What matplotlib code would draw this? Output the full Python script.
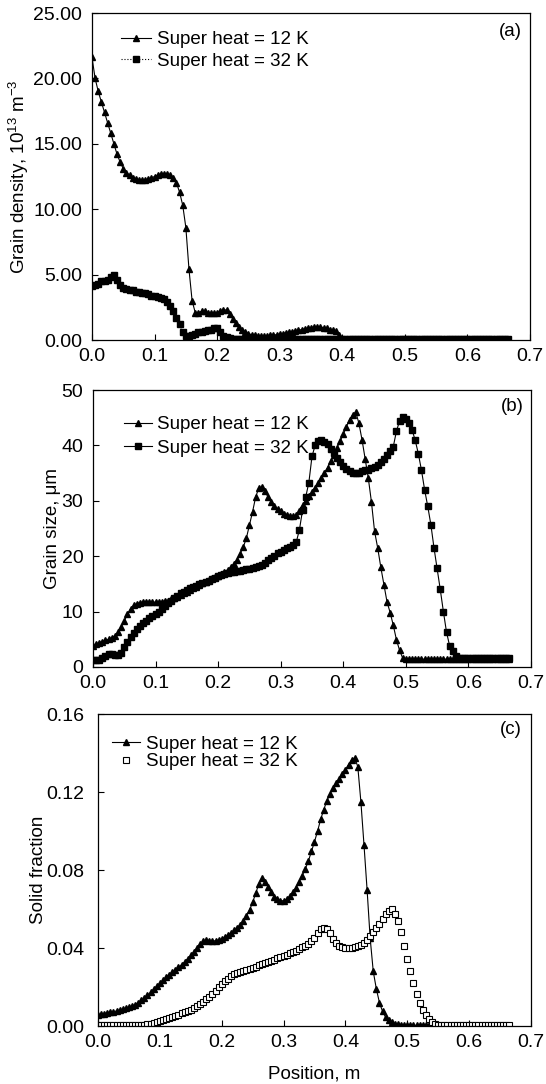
import numpy as np
import matplotlib
matplotlib.use('Agg')
import matplotlib.pyplot as plt
from matplotlib.ticker import FormatStrFormatter

plt.rcParams['font.family'] = ['Liberation Sans', 'DejaVu Sans']
plt.rcParams['mathtext.default'] = 'regular'

# Positions along the caster (m), sampled every 5 mm
position = np.arange(134) * 0.005

labels = ['Super heat = 12 K', 'Super heat = 32 K']

# (a) grain density, 1e13 m^-3
density_12 = [
    21.6, 20.0, 19.0, 18.2, 17.4, 16.6, 15.8, 15.0, 14.2, 13.6,
    13.1, 12.8, 12.6, 12.4, 12.3, 12.2, 12.2, 12.2, 12.3, 12.4,
    12.5, 12.6, 12.7, 12.7, 12.7, 12.6, 12.4, 12.0, 11.3, 10.3,
    8.6, 5.4, 3.0, 2.1, 2.1, 2.2, 2.2, 2.1, 2.1, 2.1,
    2.1, 2.2, 2.3, 2.3, 2.0, 1.6, 1.3, 1.0, 0.8, 0.6,
    0.5, 0.4, 0.35, 0.3, 0.3, 0.3, 0.3, 0.35, 0.4, 0.4,
    0.45, 0.5, 0.55, 0.6, 0.65, 0.7, 0.75, 0.8, 0.85, 0.9,
    0.95, 1.0, 1.0, 1.0, 0.95, 0.9, 0.8, 0.75, 0.7, 0.4,
    0.05, 0.0, 0.0, 0.0, 0.0, 0.0, 0.0, 0.0, 0.0, 0.0,
    0.0, 0.0, 0.0, 0.0, 0.0, 0.0, 0.0, 0.0, 0.0, 0.0,
    0.0, 0.0, 0.0, 0.0, 0.0, 0.0, 0.0, 0.0, 0.0, 0.0,
    0.0, 0.0, 0.0, 0.0, 0.0, 0.0, 0.0, 0.0, 0.0, 0.0,
    0.0, 0.0, 0.0, 0.0, 0.0, 0.0, 0.0, 0.0, 0.0, 0.0,
    0.0, 0.0, 0.0, 0.0,
]
density_32 = [
    4.1, 4.2, 4.3, 4.5, 4.5, 4.6, 4.8, 5.0, 4.6, 4.2,
    4.0, 3.9, 3.8, 3.8, 3.7, 3.7, 3.6, 3.6, 3.5, 3.4,
    3.4, 3.3, 3.2, 3.1, 2.9, 2.6, 2.2, 1.7, 1.2, 0.6,
    0.3, 0.3, 0.4, 0.5, 0.6, 0.6, 0.7, 0.8, 0.8, 0.9,
    0.9, 0.6, 0.3, 0.2, 0.15, 0.1, 0.1, 0.1, 0.1, 0.1,
    0.1, 0.1, 0.1, 0.1, 0.1, 0.1, 0.1, 0.1, 0.1, 0.1,
    0.05, 0.05, 0.05, 0.05, 0.05, 0.05, 0.05, 0.05, 0.05, 0.05,
    0.05, 0.05, 0.05, 0.05, 0.05, 0.05, 0.05, 0.05, 0.05, 0.05,
    0.05, 0.05, 0.05, 0.05, 0.05, 0.05, 0.05, 0.05, 0.05, 0.05,
    0.05, 0.05, 0.05, 0.05, 0.05, 0.05, 0.05, 0.05, 0.05, 0.05,
    0.05, 0.05, 0.05, 0.05, 0.05, 0.05, 0.05, 0.05, 0.05, 0.05,
    0.05, 0.05, 0.05, 0.05, 0.05, 0.05, 0.05, 0.05, 0.05, 0.05,
    0.05, 0.05, 0.05, 0.05, 0.05, 0.05, 0.05, 0.05, 0.05, 0.05,
    0.05, 0.05, 0.05, 0.05,
]

# (b) grain size, um
size_12 = [
    3.7, 4.1, 4.4, 4.6, 4.8, 5.0, 5.3, 5.6, 6.3, 7.2,
    8.3, 9.5, 10.5, 11.1, 11.4, 11.6, 11.7, 11.7, 11.7, 11.7,
    11.7, 11.8, 11.8, 11.9, 12.0, 12.2, 12.4, 12.7, 13.0, 13.3,
    13.6, 13.9, 14.2, 14.5, 14.8, 15.1, 15.4, 15.7, 16.0, 16.2,
    16.5, 16.8, 17.1, 17.5, 18.0, 18.6, 19.3, 20.4, 21.6, 23.2,
    25.6, 28.0, 30.7, 32.3, 32.5, 31.7, 30.6, 29.7, 29.0, 28.5,
    28.1, 27.7, 27.4, 27.2, 27.2, 27.5, 28.2, 29.2, 30.0, 30.8,
    31.6, 32.4, 33.2, 34.2, 35.1, 36.0, 37.2, 38.3, 39.6, 40.8,
    42.0, 43.4, 44.6, 45.5, 46.0, 44.0, 41.0, 37.5, 34.1, 29.8,
    24.5, 21.5, 18.0, 14.8, 11.7, 9.8, 7.5, 4.9, 3.0, 1.6,
    1.4, 1.4, 1.4, 1.4, 1.4, 1.4, 1.4, 1.4, 1.4, 1.4,
    1.4, 1.4, 1.4, 1.4, 1.4, 1.4, 1.4, 1.4, 1.4, 1.4,
    1.4, 1.4, 1.4, 1.4, 1.4, 1.4, 1.4, 1.4, 1.4, 1.4,
    1.4, 1.4, 1.4, 1.4,
]
size_32 = [
    1.3, 1.2, 1.3, 1.6, 2.0, 2.3, 2.3, 2.2, 2.1, 2.6,
    3.6, 4.6, 5.5, 6.2, 6.8, 7.4, 7.9, 8.3, 8.8, 9.2,
    9.6, 10.0, 10.5, 11.0, 11.5, 12.0, 12.4, 12.9, 13.3, 13.6,
    13.9, 14.2, 14.5, 14.7, 15.0, 15.2, 15.4, 15.6, 15.9, 16.1,
    16.4, 16.6, 16.8, 17.0, 17.1, 17.2, 17.3, 17.4, 17.5, 17.6,
    17.7, 17.9, 18.0, 18.2, 18.5, 18.8, 19.3, 19.7, 20.1, 20.5,
    20.8, 21.1, 21.4, 21.7, 22.0, 22.6, 24.8, 28.4, 30.7, 33.3,
    38.0, 40.0, 40.8, 41.0, 40.6, 40.2, 39.4, 38.6, 37.8, 37.0,
    36.3, 35.8, 35.4, 35.1, 35.0, 35.1, 35.3, 35.6, 35.6, 35.9,
    36.1, 36.5, 37.0, 37.6, 38.3, 39.0, 39.8, 42.6, 44.4, 45.1,
    44.8, 44.0, 42.8, 40.9, 38.5, 35.5, 32.0, 29.0, 25.7, 21.5,
    17.8, 14.0, 10.0, 6.3, 3.8, 2.9, 1.9, 1.6, 1.6, 1.6,
    1.6, 1.6, 1.6, 1.6, 1.6, 1.6, 1.6, 1.6, 1.6, 1.6,
    1.6, 1.6, 1.6, 1.6,
]

# (c) solid fraction
solid_12 = [
    0.0055, 0.0060, 0.0064, 0.0067, 0.0070, 0.0073, 0.0077, 0.0081, 0.0085, 0.0090,
    0.0096, 0.0102, 0.0110, 0.0120, 0.0131, 0.0143, 0.0157, 0.0172, 0.0188, 0.0203,
    0.0218, 0.0234, 0.0250, 0.0264, 0.0276, 0.0289, 0.0301, 0.0314, 0.0328, 0.0345,
    0.0362, 0.0381, 0.0400, 0.0420, 0.0435, 0.0440, 0.0438, 0.0436, 0.0437, 0.0440,
    0.0446, 0.0455, 0.0465, 0.0477, 0.0490, 0.0503, 0.0518, 0.0540, 0.0565, 0.0595,
    0.0635, 0.0680, 0.0730, 0.0758, 0.0740, 0.0712, 0.0685, 0.0664, 0.0650, 0.0643,
    0.0642, 0.0650, 0.0665, 0.0685, 0.0710, 0.0740, 0.0770, 0.0805, 0.0845, 0.0895,
    0.0945, 0.1000, 0.1060, 0.1110, 0.1155, 0.1190, 0.1220, 0.1245, 0.1265, 0.1290,
    0.1315, 0.1340, 0.1365, 0.1375, 0.1330, 0.1150, 0.0930, 0.0700, 0.0450, 0.0280,
    0.0190, 0.0120, 0.0075, 0.0045, 0.0030, 0.0020, 0.0012, 0.0008, 0.0005, 0.0003,
    0.0003, 0.0003, 0.0003, 0.0003, 0.0003, 0.0003, 0.0003, 0.0003, 0.0003, 0.0003,
    0.0003, 0.0003, 0.0003, 0.0003, 0.0003, 0.0003, 0.0003, 0.0003, 0.0003, 0.0003,
    0.0003, 0.0003, 0.0003, 0.0003, 0.0003, 0.0003, 0.0003, 0.0003, 0.0003, 0.0003,
    0.0003, 0.0003, 0.0003, 0.0003,
]
solid_32 = [
    0.0003, 0.0003, 0.0003, 0.0003, 0.0003, 0.0003, 0.0003, 0.0003, 0.0003, 0.0003,
    0.0003, 0.0003, 0.0003, 0.0003, 0.0003, 0.0006, 0.0009, 0.0012, 0.0016, 0.0020,
    0.0024, 0.0029, 0.0034, 0.0039, 0.0045, 0.0051, 0.0058, 0.0065, 0.0071, 0.0077,
    0.0084, 0.0092, 0.0101, 0.0112, 0.0124, 0.0137, 0.0151, 0.0166, 0.0182, 0.0198,
    0.0214, 0.0229, 0.0243, 0.0256, 0.0266, 0.0273, 0.0279, 0.0284, 0.0289, 0.0294,
    0.0299, 0.0305, 0.0311, 0.0317, 0.0323, 0.0329, 0.0335, 0.0341, 0.0347, 0.0353,
    0.0359, 0.0366, 0.0373, 0.0380, 0.0387, 0.0395, 0.0403, 0.0412, 0.0422, 0.0435,
    0.0452, 0.0478, 0.0500, 0.0505, 0.0500, 0.0478, 0.0448, 0.0425, 0.0410, 0.0403,
    0.0400, 0.0399, 0.0400, 0.0403, 0.0408, 0.0416, 0.0428, 0.0443, 0.0460, 0.0480,
    0.0502, 0.0525, 0.0550, 0.0572, 0.0590, 0.0598, 0.0575, 0.0540, 0.0480, 0.0410,
    0.0345, 0.0280, 0.0220, 0.0165, 0.0120, 0.0083, 0.0055, 0.0035, 0.0021, 0.0012,
    0.0007, 0.0004, 0.0003, 0.0003, 0.0003, 0.0003, 0.0003, 0.0003, 0.0003, 0.0003,
    0.0003, 0.0003, 0.0003, 0.0003, 0.0003, 0.0003, 0.0003, 0.0003, 0.0003, 0.0003,
    0.0003, 0.0003, 0.0003, 0.0003,
]

x_ticks = [0.0, 0.1, 0.2, 0.3, 0.4, 0.5, 0.6, 0.7]
FS = 13.5
TICK_FS = 14

fig = plt.figure(figsize=(5.46, 10.84), dpi=100)
ax_a = fig.add_axes([0.1685, 0.6863, 0.8022, 0.3017])
ax_b = fig.add_axes([0.1703, 0.3847, 0.8022, 0.2555])
ax_c = fig.add_axes([0.1795, 0.0535, 0.7930, 0.2878])


def style_axis(ax, ylim, yticks, yfmt, ylabel, ylab_x, tag, tag_xy, ypad):
    ax.set_xlim(0, 0.7)
    ax.set_ylim(*ylim)
    ax.set_xticks(x_ticks)
    ax.set_yticks(yticks)
    ax.xaxis.set_major_formatter(FormatStrFormatter('%.1f'))
    ax.yaxis.set_major_formatter(FormatStrFormatter(yfmt))
    ax.tick_params(direction='in', length=4, width=0.8, labelsize=TICK_FS)
    ax.tick_params(axis='x', pad=6)
    ax.tick_params(axis='y', pad=ypad)
    ax.set_ylabel(ylabel, fontsize=FS)
    ax.yaxis.set_label_coords(ylab_x, 0.5)
    for s in ax.spines.values():
        s.set_linewidth(0.9)
    ax.text(tag_xy[0], tag_xy[1], tag, transform=ax.transAxes,
            ha='center', va='center', fontsize=FS)


# (a)
n = len(density_12)
ax_a.plot(position[:n], density_12, '-^', color='black', lw=0.8, ms=4.8,
          label=labels[0])
n = len(density_32)
ax_a.plot(position[:n], density_32, ':s', color='black', lw=0.8, ms=4.4,
          label=labels[1])
style_axis(ax_a, (0, 25), [0, 5, 10, 15, 20, 25], '%.2f',
           'Grain density, 10$^{13}$ m$^{-3}$', -0.14, '(a)', (0.955, 0.942), 7)
ax_a.legend(loc='upper left', bbox_to_anchor=(0.066, 0.945), frameon=False,
            fontsize=FS, borderpad=0, borderaxespad=0, handlelength=1.6,
            handletextpad=0.35, labelspacing=0.25)

# (b)
n = len(size_12)
ax_b.plot(position[:n], size_12, '-^', color='black', lw=0.8, ms=4.8,
          label=labels[0])
n = len(size_32)
ax_b.plot(position[:n], size_32, '-s', color='black', lw=0.8, ms=4.4,
          label=labels[1])
style_axis(ax_b, (0, 50), [0, 10, 20, 30, 40, 50], '%d',
           'Grain size, \u03bcm', -0.073, '(b)', (0.957, 0.939), 7)
ax_b.legend(loc='upper left', bbox_to_anchor=(0.07, 0.906), frameon=False,
            fontsize=FS, borderpad=0, borderaxespad=0, handlelength=1.5,
            handletextpad=0.3, labelspacing=0.36)

# (c)
n = len(solid_12)
ax_c.plot(position[:n], solid_12, '-^', color='black', lw=0.8, ms=4.8,
          label=labels[0])
n = len(solid_32)
ax_c.plot(position[:n], solid_32, 's', color='black', mfc='white', mew=0.8,
          ms=4.6, linestyle='none', label=labels[1])
style_axis(ax_c, (0, 0.16), [0, 0.04, 0.08, 0.12, 0.16], '%.2f',
           'Solid fraction', -0.118, '(c)', (0.953, 0.949), 10)
ax_c.set_xlabel('Position, m', fontsize=FS)
ax_c.xaxis.set_label_coords(0.5, -0.125)
ax_c.legend(loc='upper left', bbox_to_anchor=(0.032, 0.93), frameon=False,
            fontsize=FS, borderpad=0, borderaxespad=0, handlelength=1.5,
            handletextpad=0.3, labelspacing=0.02)

fig.savefig('out.png', dpi=100)
